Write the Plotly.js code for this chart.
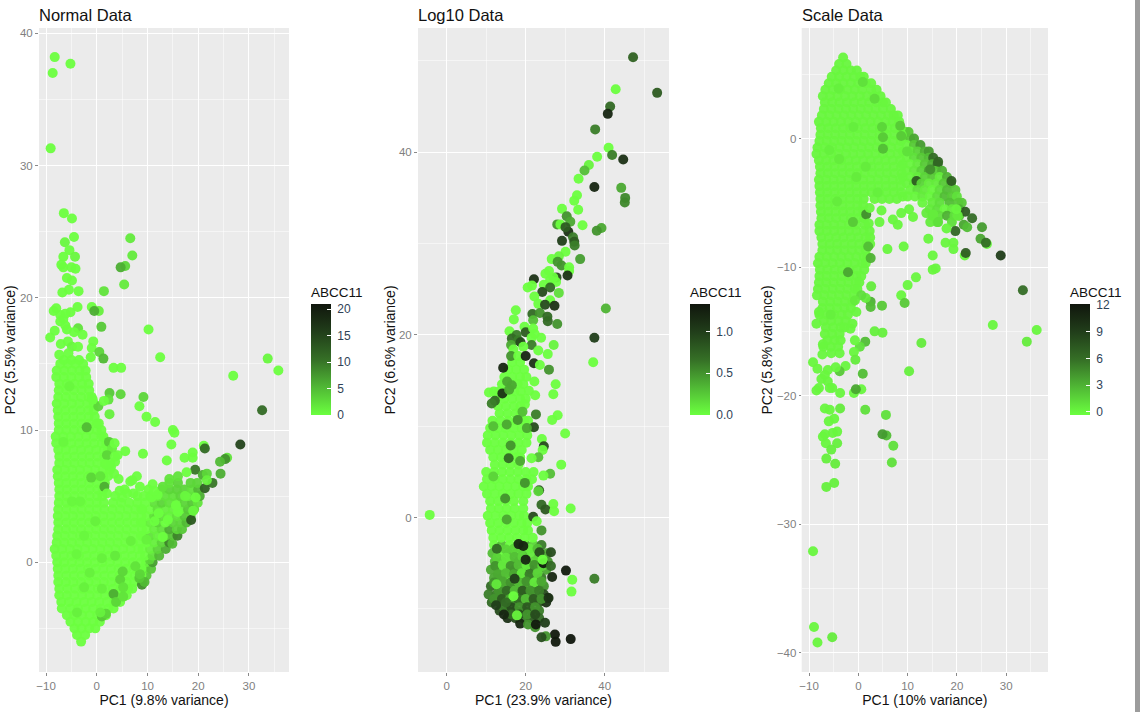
<!DOCTYPE html>
<html><head><meta charset="utf-8">
<script src="https://cdn.plot.ly/plotly-3.0.1.min.js"></script>
<style>html,body{margin:0;padding:0;background:#fff}#c{width:1140px;height:712px}</style>
</head><body><div id="c"></div>
<script>
// ---- Normal Data: solid mass, rows of [PC2, PC1, PC1, ...], ABCC11 = 0
const normalRows = [
[-6,-3.1],[-5.5,-3.9,-2.3],[-5,-4.4,-3,-1.5,-.3],[-4.5,-5.2,-3.7,-2.2,-.7,.6],[-4,-5.9,-4.4,-2.9,-1.4,.1,1.8],
[-3.5,-6.9,-5.2,-3.7,-2.2,-.7,.8,2.3,3.3],[-3,-7,-5.5,-4,-2.5,-1,.5,2,3.5,4.6],[-2.5,-7.4,-5.9,-4.4,-2.9,-1.4,.1,1.6,3.1,4.6,5.9],
[-2,-7.4,-5.8,-4.3,-2.8,-1.3,.2,1.7,3.2,4.7,6.2,7],[-1.5,-7.6,-6.1,-4.6,-3.1,-1.6,-.1,1.4,2.9,4.4,5.9,7.4],
[-1,-7.6,-6,-4.5,-3,-1.5,0,1.5,3,4.5,6,7.5,8.8],[-.5,-7.7,-6.2,-4.7,-3.2,-1.7,-.2,1.3,2.8,4.3,5.8,7.3,8.8],
[0,-7.8,-6.4,-4.9,-3.4,-1.9,-.4,1.1,2.6,4.1,5.6,7.1,8.6],[.5,-8,-6.5,-5,-3.5,-2,-.5,1,2.5,4,5.5,7,8.5],
[1,-8.3,-6.8,-5.3,-3.8,-2.3,-.8,.7,2.2,3.7,5.2,6.7,8.2],[1.5,-7.9,-6.4,-4.9,-3.4,-1.9,-.4,1.1,2.6,4.1,5.6,7.1,8.6],
[2,-7.8,-6.3,-4.8,-3.3,-1.8,-.3,1.2,2.7,4.2,5.7,7.2,8.7],[2.5,-7.6,-6.1,-4.6,-3.1,-1.6,-.1,1.4,2.9,4.4,5.9,7.4,8.9],
[3,-7.6,-6,-4.5,-3,-1.5,0,1.5,3,4.5,6,7.5,8.7],[3.5,-7.7,-6.2,-4.7,-3.2,-1.7,-.2,1.3,2.8,4.3,5.8,7.3,8.8],
[4,-7.6,-6,-4.5,-3,-1.5,0,1.5,3.1,4.6,6.1,7.6,8.8],[4.5,-7.5,-6,-4.5,-3,-1.5,0,1.4,3.2,4.8,6.4,8,9.5],
[5,-7.4,-5.9,-4.4,-2.9,-1.4,.1,1.1,3.6],[5.5,-7.4,-5.9,-4.4,-2.9,-1.4,.1,1.3],[6,-7.5,-6,-4.5,-3,-1.5,0,1.6],
[6.5,-7.7,-6.2,-4.7,-3.2,-1.7,-.2,1.3,2.2],[7,-7.8,-6.3,-4.8,-3.3,-1.8,-.3,1.2,2.6],[7.5,-7.4,-5.9,-4.4,-2.9,-1.4,.1,1.6,2.7],
[8,-7.4,-5.9,-4.4,-2.9,-1.4,.1,1.5],[8.5,-7.6,-6.1,-4.6,-3.1,-1.6,-.1,1.4,2.2],[9,-8,-6.5,-5,-3.5,-2,-.5,1,1.9],
[9.5,-8.1,-6.6,-5.1,-3.6,-2.1,-.6,.9,1.3],[10,-7.5,-6,-4.5,-3,-1.5,0,.9],[10.5,-7.5,-6,-4.5,-3,-1.5,0,.4],
[11,-7.6,-6.1,-4.6,-3.1,-1.6,-.4],[11.5,-7.7,-6.2,-4.7,-3.2,-1.7,-.6],[12,-7.9,-6.4,-4.9,-3.4,-1.9,-.6],
[12.5,-7.6,-6.1,-4.6,-3.1,-1.6,-1],[13,-7.5,-6,-4.5,-3,-1.5],[13.5,-7.4,-5.9,-4.4,-2.9,-1.6],
[14,-8,-6.5,-5,-3.5,-2.1],[14.5,-7.9,-6.4,-4.9,-3.4,-2.2],[15,-7.2,-5.7,-4.2,-2.7],[15.3,-6.5,-5,-3.5]
];
// Normal Data: coloured wing, flat PC1, PC2, ABCC11
const normalWing = [
9,-1.5,5, 9.8,-1,4, 9.5,-.5,2, 10.7,-.5,4, 9.7,0,1, 11,0,7, 10.4,.2,3, 9.5,.5,0, 11,.5,2, 12.3,.5,5,
9,1,0, 10.5,1,1, 12,1,3, 13.6,1,6, 9.8,1.5,0, 11.3,1.5,1, 12.8,1.5,3, 14.3,1.5,9, 14.9,1.4,5,
9,2,0, 10.5,2,2, 12,2,1, 13.5,2,3, 15,2,4, 15.9,2,9, 9.8,2.5,0, 11.3,2.5,1, 12.8,2.5,2, 14.3,2.5,6, 15.8,2.5,3, 16.8,2.5,4,
9,3,0, 10.5,3,1, 11.6,3.3,10, 12,3,3, 13.5,3,0, 15,3,3, 16.5,3,3, 17.7,3,5, 9.8,3.5,0, 11.3,3.5,2, 12.8,3.5,2, 14.3,3.5,1, 15.8,3.5,2, 17.3,3.5,4, 18.5,3.5,3,
9,4,0, 10.5,4,0, 12,4,2, 13.5,4,1, 15,4,1, 16.5,4,1, 18,4,4, 19.2,4,3, 11.3,4.5,2, 12.8,4.5,3, 14.3,4.5,2, 15.8,4.5,1, 17.3,4.5,3, 18.8,4.5,4, 19.9,4.5,2,
10.5,5,1, 12,5,1, 13.5,5,2, 15,5,2, 16.5,5,3, 18,5,1, 19.5,5,3, 20.3,5,6, 12.8,5.5,2, 14.3,5.5,3, 15.8,5.5,3, 17.3,5.5,3, 18.8,5.5,2, 20,5.5,5,
14.3,6,2, 16,6,3, 18.5,6,3, 19.8,6,3
];
// Normal Data: separately readable points, flat PC1, PC2, ABCC11
const normalPoints = [
-8.3,38.2,0, -8.7,37,0, -5.2,37.7,0, -9.1,31.3,0, -6.5,26.4,0, -4.9,26,0, -4.5,24.6,0, -6.3,24.2,.5, -5.4,23.6,0, -6.6,23.1,0, -4.3,23.1,.5,
-7,22.5,0, -6.6,22.3,0, -5,22.3,0, -4.2,22.2,0, -5.9,21.5,0, -4.9,21.3,0, -5.5,20.6,0, -6.8,20.4,0, -3.6,20.5,0, 6.6,24.5,1.5, 7,23.2,1.5,
5.6,22.4,3, 4.7,22.3,6, 5.4,21,1.5, 1.4,20.5,2, -1,19.3,0, .4,19,1, -.5,19,6, -3.8,19.3,0, -8,19.2,0, -8.5,19,0, -5.2,18.9,0, -6.2,18.8,0,
-7.2,18.7,0, -6.6,18.4,0, -7.2,18.2,0, -6.2,17.9,0, -5.9,17.6,0, -3.7,17.7,2, -4.5,17.4,0, -2.8,17.2,0, .9,17.8,4, -8.3,17.5,0, -9.2,17,0, 10.2,17.6,0,
-.7,16.7,0, -7.1,16.5,0, -5.7,16.7,0, -4.9,16.3,.5, -3.7,16.3,0, -1,16.2,0, .5,15.9,3, -7.4,15.7,0, -5.6,15.8,0, -1.2,15.5,0, 1.3,15.4,5, 12.5,15.5,0, 33.7,15.4,.5,
35.8,14.5,0, 26.9,14.1,0, 3.3,14.7,0, 4.8,14.7,0, 32.6,11.5,11, 2.5,12.8,4, 4.7,12.7,3, 9.2,12.5,3, 8.4,11.8,0, 9.8,11,0, 11.5,10.6,0, 2.5,11.2,1,
2.3,12.3,2, .3,11.8,3, 1.4,12.2,0, -.8,12.3,0, 15,10,0, 15.3,9.8,0, 14.7,8.9,0, 21.1,8.8,0, 28.3,8.9,15, 21.3,8.6,11, 18.9,8.3,0, 18.9,7.9,0, 17.3,7.9,0, 13.8,7.7,0, 9.1,8.2,0,
5.6,8.4,0, 4.1,8.1,0, 25.7,7.9,2, 25.3,7.8,8, 24.3,7.6,5, 24.4,6.7,6, 19.4,7,10, 17.7,6.8,0, 20.9,6.6,6, 21.7,6.7,3, 22.8,6,10, 21.3,5.6,12, 21.7,6.2,1, 18.6,3.2,13,
-2,10.2,5, 2.4,9.1,4, 3,8.6,1, 2,8.1,3, 4.3,6.3,0, -1.1,6.4,3, .7,6.5,2, 1.5,5.7,6, 2,5.2,0, 4.5,5.4,0, 6.6,6.1,0, 7.9,6.5,0, 7,6.2,0, 8.5,5.7,0, 11,5.9,0, 10.2,5.5,0, 5.5,5.5,0, 9.3,5,0,
3.6,7.6,0, 2.8,7.2,0, 3.4,6.7,0, 1.8,7.4,0, 3.5,9,0, 3.6,8,0, 6,5.2,0, 7.2,5.2,0, 8,5,0, 5,4.9,0, 10.8,4.9,0, 12,5.1,0, 11.3,5.4,0,
13,5.7,2, 14.3,6.3,2, 16,6.5,2, 8.9,-1.7,8, 9.4,-1.5,5, 8.4,-1.2,4, 3.3,-2.4,6, 1,-4.1,4, 1.8,-3.9,3, 3.8,-3,3, 5.2,-2.6,2,
-4,.6,.5, -2.5,2,.5, 1,-2,1, 4.6,-1.3,3, 5.1,-.7,3, 3.6,.5,1.5, 1,.3,1, -3.9,-3.8,1, 5.2,-1.9,2, 8.5,-.9,3, 9.8,1.7,1, -.3,3.1,1, -4.9,4.6,.5, -3.3,4.6,.5, -5.4,13.3,.5, -6.6,9.1,.5,
-2.5,-1.9,1, -1.4,-.8,1, .7,-3.8,1, 7.6,-.3,2, 6.7,1.6,1, 11.4,3.1,0, 13,1.9,0, 12.2,3.7,0, 14,3.2,0, 16,3.8,0, 15.6,4.3,0, 19.5,4.9,0, 19,3.9,.5, 17.4,5,.5
];

// ---- Log10 Data
const logRows = [
[17,16.6,18.6],[16.2,15.6,17.6,19.6],[15.4,14.6,16.6,18.6,20.2],[14.6,14,16,18,19.4],[13.8,11.9,13.2,15.2,17.2,18.8],
[13,12.6,14.6,16.6,18.6],[12.2,13,15,17,18.7],[11.4,13.4,15.4,17.4,18.8],[10.6,11.6,13.6,15.6,17.6,19.6,20.6],
[9.8,11,13,15,17,19,20.8],[9,10.4,12.4,14.4,16.4,18.4,20.4],[8.2,10.2,12.2,14.2,16.2,18.2,20.2],[7.4,11,13,15,17,19],
[6.6,11.8,13.8,15.8,17.8,18.6],[5.8,12.2,14.2,16.2,18.2],[5,10,12,14,16,18,20,22],[4.2,10.2,12.2,14.2,16.2,18.2,20.2,21.6],
[3.4,9.4,11.4,13.4,15.4,17.4,19.4,20.6],[2.6,10.2,12.2,14.2,16.2,18.2,20.2],[1.8,11,13,15,17,19.4],[1,11.2,13.2,15.2,17.2,19.4],
[.2,10.4,12.4,14.4,16.4,18.4,19.6],[-.6,11,13,15,17,19,20.4],[-1.4,11.4,13.4,15.4,17.4,19.4,20.6],[-2.2,11.8,13.8,15.8,17.8,19.8,21.8]
];
// Log10 Data: lower coloured mass, flat PC1, PC2, ABCC11
const logLower = [
12,-3,0, 14,-3,.3, 16,-3,0, 18,-3,.3, 20,-3,.4, 22,-3,.2, 24,-3,.6,
11.6,-3.9,.3, 13.6,-3.9,0, 15.6,-3.9,.3, 17.6,-3.9,.1, 19.6,-3.9,.4, 21.6,-3.9,.1, 23.6,-3.9,.6, 25.4,-3.9,.4,
12.2,-4.8,.3, 14.2,-4.8,.4, 16.2,-4.8,.2, 18.2,-4.8,.5, 20.2,-4.8,.8, 22.2,-4.8,.2, 24.2,-4.8,.3, 25.6,-4.8,.5,
11.2,-5.7,.4, 13.2,-5.7,.2, 15.2,-5.7,.4, 17.2,-5.7,.6, 19.2,-5.7,.4, 21.2,-5.7,.7, 23.2,-5.7,.1, 25.2,-5.7,.4,
12,-6.6,.4, 14,-6.6,.4, 16,-6.6,.1, 18,-6.6,.7, 20,-6.6,.4, 22,-6.6,.3, 24,-6.6,.6,
11.2,-7.5,.7, 13.2,-7.5,.2, 15.2,-7.5,.4, 17.2,-7.5,.8, 19.2,-7.5,.5, 21.2,-7.5,.4, 23,-7.5,.7, 24.6,-7.5,.5,
10.6,-8.4,.6, 12.6,-8.4,.6, 14.6,-8.4,.5, 16.6,-8.4,.7, 18.6,-8.4,.4, 20.6,-8.4,.6, 22.6,-8.4,.5, 24.6,-8.4,.9,25.6,-8.8,1.1,
11.4,-9.3,.7, 13.4,-9.3,.6, 15.4,-9.3,.8, 17.4,-9.3,.5, 19.4,-9.3,.7, 21.4,-9.3,.6, 23.4,-9.3,.8, 25.2,-9.3,1.1,
13.4,-10.2,.9, 15.4,-10.2,.7, 17.4,-10.2,.8, 19.4,-10.2,1, 21.4,-10.2,.7, 23.4,-10.2,.6,
15.4,-11,1.1, 17.4,-11,.9, 19.4,-11,.6, 21.4,-11,.8, 23.4,-11,.7, 18.6,-11.6,1.2, 20.6,-11.7,.5, 22.4,-12,.5,
13,-3.4,.1, 15,-3.5,.2, 17,-3.4,.2, 19,-3.5,.2, 21,-3.4,.1, 23,-3.4,.3, 12.8,-4.4,.2, 15,-4.4,.1, 17.2,-4.3,.3, 19.2,-4.3,.2, 23.2,-4.4,.2,
12.3,-5.3,.5, 14.2,-5.2,.1, 16.2,-5.3,.5, 18.2,-5.2,.3, 20.2,-5.2,.1, 22.2,-5.2,.5, 24.2,-5.3,.2, 13,-6.2,.4, 15,-6.1,.3, 17,-6.2,.4, 19,-6.1,.1, 21,-6.2,.6, 23,-6.1,.2,
12,-7.1,.5, 14.2,-7,.4, 16.2,-7.1,.5, 18.2,-7.1,.3, 20.2,-7,.5, 22.2,-7.1,.1, 24,-7,.4, 13.2,-8,.5, 15.2,-8,.7, 17.2,-8,.3, 19.2,-8,.8, 21.2,-8,.5, 23.4,-8,.6,
12,-8.9,.5, 14,-8.9,.8, 16,-8.9,.4, 18,-8.9,.7, 20,-8.9,.3, 22,-8.9,.8, 24,-8.9,.5, 14.4,-9.8,.6, 16.4,-9.8,.9, 18.4,-9.8,.5, 20.4,-9.8,.8, 22.4,-9.8,.5, 16.4,-10.6,.7, 18.4,-10.6,.9, 20.4,-10.6,.5, 22.4,-10.6,.9
];
const logPoints = [
47.2,50.4,.75, 53.3,46.5,.8, 42.8,46.9,0, 41.4,45,.7, 40.8,44.2,1.2, 37.6,42.5,.6, 41,40.5,0, 41.9,39.7,.6, 44.7,39.2,1.1, 38.1,39.5,0, 36,38.6,.05, 34.9,38,.3, 33.4,37.1,0, 37.4,36.2,1.2,
44.2,36.1,.4, 45.2,35,.55, 45.1,34.5,.55, 33,35.3,0, 32.3,34.7,0, 33.3,33.7,0, 29.2,33.8,0, 30.4,33,.5, 31.3,32.4,.4, 28,32.1,.5, 28.8,32.1,0, 34.4,32,0, 39.2,31.7,.4, 38,31.4,.5,
30.8,31.3,1.1, 30.1,31.8,.8, 32,30.7,.6, 32.3,30.2,.8, 32.4,29.8,.6, 29.2,30.3,1, 30.1,29.1,0, 28.4,28.6,.05, 26.6,28.3,0, 33.8,28.3,.45, 28.1,28,.5, 29.1,27.6,.5, 31,27.4,0, 31,27,0, 30.6,26.5,1.1,
25.9,27,0, 25,26.7,0, 27.8,26.3,.9, 22.1,26.1,1.1, 27,26.3,0, 27.7,25.8,0, 26.2,26,0, 24.6,25.5,0, 21.6,25.4,0, 20.5,25.2,0, 26.2,25.2,.7, 24.2,24.7,.9, 28.4,24.6,.15, 22.2,24.2,0, 26.2,23.8,0, 23.2,23.4,0,
24.9,23.3,.9, 27.3,23.2,1.1, 40.3,22.9,.35, 17.5,22.7,0, 21.7,22.3,.7, 23.6,22.4,.5, 25.5,22,.7, 17,21.7,0, 21.9,21.6,.3, 25.6,21.5,.7, 28,21.2,.5, 19.7,20.9,0, 15.9,20.4,0, 20,20.3,.8, 21.9,20.7,0, 22.3,20.1,0,
17.7,20,.6, 16.5,19.6,.7, 18.1,19.4,.6, 37.4,19.7,1, 21.5,19.7,0, 23.9,19.7,0, 16.3,18.9,.4, 18.7,19.2,.9, 21.5,18.9,.6, 27.1,18.9,.05, 16.9,18.4,0, 19.4,18.7,0, 23.2,18.3,0, 25.6,17.9,0, 16.3,17.7,.5, 18.1,17.7,0, 20,17.7,1.2,
37.1,17,0, 14.3,16.4,1.2, 22.1,16.9,1.1, 23.6,16.7,0, 25.9,16.2,.5, 22.2,14.9,0, 27.6,14.6,0, 27,13.5,0, 22.4,13.4,0, 20.8,13.9,0, 10.7,13.7,0, 14.1,13.6,1.1, 12.2,12.8,.7, 11.4,12.5,.6, 20,13,0, 19.8,12.4,0,
15.3,14.9,.4, 16.5,14.5,.4, 15.8,14,.4, 22.6,11.3,.6, 28.1,11.2,0, 26.7,10.7,0, 19.2,11.6,.3, 18,10.7,.5, 15.2,10.2,.4, 11.8,10,.3, 22.1,9.9,.9, 20.3,9.8,.4, 30,9.2,0, 24.1,8.6,0, 24.6,7.8,.9, 24.3,7.4,0, 16.2,7.9,.5, 23.2,6.6,.3, 21.5,6.5,0, 15.7,6.5,.7,
18.6,6.2,.4, 29,5.8,0, 26.2,4.8,.3, 11.8,4.5,.2, 24.5,4.6,0, 19.8,3.8,.5, 23.4,3,.8, 23.2,2.9,.2, 14.8,2.1,.5, 27,1.5,0, 31.4,1,0, 24,1.4,.7, 25,.9,.8, 27.2,.7,0, 21.9,.1,.9, 22.8,-.4,0, 15.2,-.2,.4, 24,-1.4,.5, -4.3,.3,0,
12.7,-3.4,.7, 19.4,-3.1,1.2, 18.2,-2.9,1.2, 26.4,-3.8,.9, 23.5,-3.8,.9, 20,-4.6,1.2, 24.5,-5,1.3, 24.3,-4.6,0, 26.4,-5.3,.7, 30.2,-5.8,1.3, 26.7,-6.5,1.2, 31.8,-6.8,0, 37.4,-6.7,.6, 31.6,-8.1,0, 16.9,-8.6,0, 17.2,-6.7,1,
25.8,-8.8,1.1, 27.4,-12.8,1.3, 27.6,-13.6,1.3, 31.4,-13.3,1.4, 25.1,-13,.5, 24,-13.1,.9, 22.6,-11.7,1.3, 24.9,-11.5,1, 14.5,-10.6,1.2, 12.5,-9.6,1, 12.6,-7.3,.1, 17.8,-10.7,.05, 15,-9.3,.7
];

// ---- Scale Data
const scaleRows = [
[6.3,-3.1],[5.8,-3.9,-2.4],[5.3,-4.5,-3,-1.5,-.3],[4.8,-5.4,-3.9,-2.4,-.9,.4,1.1],[4.3,-6,-4.5,-3,-1.5,0,1.5,2.6],[3.8,-6.7,-5.2,-3.7,-2.2,-.7,.8,2.6,3.7],
[3.3,-7.2,-5.7,-4.2,-2.7,-1.2,.3,1.8,3.3,4.5],[2.8,-6.8,-5.3,-3.8,-2.3,-.8,.7,2.2,3.7,5,5.6],[2.3,-7,-5.5,-4,-2.5,-1,.5,2,3.5,5,6.6],
[1.8,-7.4,-5.9,-4.4,-2.9,-1.4,.1,1.6,3.1,4.6,6.1,7.2,8],[1.3,-8,-6.5,-5,-3.5,-2,-.5,1,2.5,4,5.5,7,8.3],[.8,-7.6,-6.1,-4.6,-3.1,-1.6,-.1,1.4,2.9,4.4,5.9,7.4,8.6],
[.3,-7.7,-6.2,-4.7,-3.2,-1.7,-.2,1.3,2.8,4.3,5.8,7.3,8.8],[-.2,-7.9,-6.4,-4.9,-3.4,-1.9,-.4,1.1,2.6,4.1,5.6,7.1,8.6],[-.7,-8.3,-6.8,-5.3,-3.8,-2.3,-.8,.7,2.2,3.7,5.2,6.7,8.2],
[-1.2,-8.5,-7,-5.5,-4,-2.5,-1,.5,2,3.5,5,6.5,8],[-1.7,-8,-6.5,-5,-3.5,-2,-.5,1,2.5,4,5.5,7,8.5],[-2.2,-7.8,-6.3,-4.8,-3.3,-1.8,-.3,1.2,2.7,4.2,5.7,7.2,8.7],
[-2.7,-7.7,-6.2,-4.7,-3.2,-1.7,-.2,1.3,2.8,4.3,5.8,7.3,8.8],[-3.2,-8,-6.5,-5,-3.5,-2,-.5,1,2.5,4,5.5,7,8.5],[-3.7,-7.9,-6.4,-4.9,-3.4,-1.9,-.4,1.1,2.6,4.1,5.6,7.1,8.6],
[-4.2,-7.8,-6.3,-4.8,-3.3,-1.8,-.3,1.2,2.7,4.2,5.7,7.2,8.7],[-4.7,-7.7,-6.2,-4.7,-3.2,-1.7,-.2,1.1,3.3,4.8,6.3,7.8],[-5.2,-7.7,-6.2,-4.7,-3.2,-1.7,-.2,1],
[-5.7,-7.6,-6.1,-4.6,-3.1,-1.6,-.1,1],[-6.2,-7.5,-6,-4.5,-3,-1.5,0,1.2],[-6.7,-7.9,-6.4,-4.9,-3.4,-1.9,-.4,1.4],[-7.2,-7.9,-6.4,-4.9,-3.4,-1.9,-.4,1.1,2.3],
[-7.7,-7.5,-6,-4.5,-3,-1.5,0,1.5,2.4],[-8.2,-7.3,-5.8,-4.3,-2.8,-1.3,.2,1.7,2.4],[-8.7,-7.3,-5.8,-4.3,-2.8,-1.3,.2,1.5],[-9.2,-7.9,-6.4,-4.9,-3.4,-1.9,-.4,1.1,1.8],
[-9.7,-8.2,-6.7,-5.2,-3.7,-2.2,-.7,.8,1.5],[-10.2,-7.8,-6.3,-4.8,-3.3,-1.8,-.3,1.2],[-10.7,-7.9,-6.4,-4.9,-3.4,-1.9,-.4,.6],[-11.2,-8,-6.5,-5,-3.5,-2,-.5,.2],
[-11.7,-8.2,-6.7,-5.2,-3.7,-2.2,-.7,-.2],[-12.2,-8.4,-6.9,-5.4,-3.9,-2.4,-.9],[-12.7,-7.2,-5.7,-4.2,-2.7,-1.2],[-13.2,-7.3,-5.8,-4.3,-2.8,-1.5],
[-13.7,-7.9,-6.4,-4.9,-3.4,-2.1],[-14.2,-7,-5.5,-4,-2.6],[-14.7,-6.6,-5.1,-3.6,-2.8],[-15.2,-6.8,-5.3,-3.8],[-15.7,-6.3,-4.8,-3.6],[-16.2,-7.1,-5.6,-4.1]
];
const scaleWing = [
9.5,.5,1, 10.2,.5,2, 9,0,.5, 10.5,0,2, 11.3,0,3.5, 9.8,-.5,0, 11.3,-.5,2, 12.6,-.5,4, 9,-1,0, 10.5,-1,.5, 12,-1,1.5, 13.5,-1,3, 14.3,-1,4,
9.8,-1.5,0, 11.3,-1.5,1, 12.8,-1.5,2, 14.3,-1.5,2.5, 15.2,-1.5,6, 9,-2,0, 10.5,-2,0, 12,-2,.5, 13.5,-2,2, 15,-2,3, 16.1,-2,6,
9.8,-2.5,0, 11.3,-2.5,.5, 12.8,-2.5,1.5, 14.3,-2.5,3.5, 15.8,-2.5,2, 17,-2.5,3, 9,-3,0, 10.5,-3,0, 12,-3,.5, 13.5,-3,1.5, 15,-3,2, 16.5,-3,.5, 18,-3,3,
9.8,-3.5,0, 11.3,-3.5,.5, 11.8,-3.3,7, 12.8,-3.5,1.5, 14.3,-3.5,.5, 15.8,-3.5,.5, 17.3,-3.5,2, 18.8,-3.5,2.5, 10.5,-4,0, 12,-4,1, 13.5,-4,.5, 15,-4,0, 16.5,-4,1, 18,-4,2.5, 19.7,-4,2,
9,-4.5,0, 10,-4.5,0, 11.5,-4.5,0, 13,-4.5,.5, 14.5,-4.5,0, 16,-4.5,1, 17.5,-4.5,2.5, 19,-4.5,2, 20,-4.5,1, 13,-5,0, 15,-5,.5, 16.5,-5,1, 18.5,-5,2.5, 20.3,-5,2, 21,-5,2,
10.3,-5.5,0, 14.5,-5.5,.5, 16,-5.5,1, 17.5,-5.5,0, 19,-5.5,.5, 20.5,-5.5,3, 15,-6,1, 16.4,-6,1, 18,-6,3, 19.5,-6,1, 20.5,-6,2, 16,-6.5,.5, 19,-6.5,1
];
const scalePoints = [
5.9,-8.6,0, 9.2,-8.4,0, 14.2,-7.8,0, 17.7,-8.1,0, 19.3,-8.1,0, 19.3,-8.6,0, 15.1,-9.1,0, 21.6,-9.1,0, 21.8,-8.9,7, 28.9,-9.1,9, 15.7,-10.1,0, 15.1,-10.2,0, 11.7,-10.8,0, 10,-11.4,0, 8.7,-12.2,0,
9.4,-12.8,2, 4.8,-13,2, 2.6,-11.5,.5, 2.5,-12.7,3, 2.5,-13.1,2.5, 1.5,-12.4,.5, .6,-12.2,1, -.7,-12.6,.5, -2.1,-10.4,3.5, 33.4,-11.8,6, 27.3,-14.5,0, 36.2,-14.9,0, 34.2,-15.8,.5, 12.8,-15.9,.5, 3.3,-15,.3, 4.9,-15.1,.3,
1.4,-15.8,2.5, .3,-16.2,1, -.7,-15.7,0, -.9,-16.6,0, -.4,-13.5,0, -1.2,-14.4,0, -1.6,-14.8,0, -8.5,-14.4,0, -8,-13.5,0, -5.6,-13.7,.3, -7.2,-16,0, -5.5,-16.7,0, -3.8,-16.7,0, -7.3,-16.8,0,
10.3,-18.1,.3, .9,-18.3,2.5, -.6,-17.2,.5, -2.6,-17.7,0, -3.8,-18.1,2, -4.6,-17.8,0, -9.2,-17.4,0, -8.3,-17.9,0, -6.2,-18,0, -6.8,-18.4,0, -7.5,-18.7,0, -6.2,-18.9,0, -5.8,-19.4,0, -5.3,-19.4,0, -8,-19.4,0, -8.5,-19.6,0, -3.7,-19.8,0,
-.9,-19.8,0, .6,-19.5,0, -.5,-19.5,3.5, 1.4,-21.1,1, -3.7,-21,.5, -6.8,-21,0, -5.8,-21.1,0, -4.9,-21.8,0, -6,-22,0, 5.6,-21.5,1, 5.7,-23.1,2.5, 4.9,-23,4, 7.1,-23.9,1, 6.8,-25.2,1, -4.3,-22.8,0, -5.2,-22.9,0, -6.8,-23,0, -7.2,-23.2,0,
-6.6,-23.7,0, -4.3,-23.7,.3, -5.5,-24.2,.3, -6.5,-24.9,.3, -4.7,-25.3,.5, -4.9,-26.8,.3, -6.5,-27.1,.3, -9.2,-32.1,0, -9,-38,0, -8.3,-39.2,0, -5.3,-38.8,.5,
25.1,-6.9,4, 26.1,-8.2,0, 24.8,-7.8,3.5, 25.9,-8.1,6, 19.7,-7.2,6.5, 21.7,-5.7,7, 23.1,-6.2,6, 21.4,-6.7,3.5, 22.1,-6.9,2.5, 18.9,-3.3,7, 16.2,-1.8,6.5, 14.6,-2.4,4.5, 1.6,-5.9,4.5, -1.1,-6.5,2, 2,-8.4,2.5, 2.5,-9.3,3,
4.3,-6.5,0, 8,-6.7,0, 7,-6.3,0, 8.7,-5.8,0, 11.1,-6.1,0, 4.7,-5.6,0, 2.3,-5.4,0, 2.1,-6.6,0, 13.8,-5.8,.5, 15.2,-5.9,.5, 14.6,-6.5,.5, 16.2,-6.5,1, 17.9,-7,0, 20.2,-6,.5, 19.9,-5.5,0,
-4,3.9,.3, .9,4.4,1, 3.3,3.1,1.2, 4.8,.9,1.5, 5,.1,2, 5,-.8,2.5, 8.5,1,2, 8.7,.2,2, 9.9,-1,1, -5.9,-.9,.3, -3.9,-1.6,.5, -.4,-3,.5, 3.9,-4.2,.3, -4.3,-4.9,.5, -1,.9,.4, 1.5,-2.2,.5
];

function unpack(rows, triples, points){
  const x=[],y=[],c=[];
  for(let i=0;i<triples.length;i+=3){x.push(triples[i]);y.push(triples[i+1]);c.push(triples[i+2]);}
  rows.forEach(r=>{for(let j=1;j<r.length;j++){x.push(r[j]);y.push(r[0]);c.push(0);}});
  for(let i=0;i<points.length;i+=3){x.push(points[i]);y.push(points[i+1]);c.push(points[i+2]);}
  return {x,y,c};
}
const scale=[[0,'#6bff3f'],[.25,'#50b835'],[.5,'#356f26'],[.75,'#213e1a'],[1,'#10160d']];
function trace(d,n){
  const s=n===1?'':n;
  return {type:'scatter',mode:'markers',x:d.x,y:d.y,xaxis:'x'+s,yaxis:'y'+s,showlegend:false,hoverinfo:'skip',
    marker:{size:10,opacity:.95,color:d.c,coloraxis:'coloraxis'+s,line:{width:0}}};
}
const data=[trace(unpack(normalRows,normalWing,normalPoints),1),trace(unpack(logRows,logLower,logPoints),2),trace(unpack(scaleRows,scaleWing,scalePoints),3)];

const W=1140,H=712,panelTop=28,panelBottom=672;
function ax(domain,range,dtick,minor,title,standoff,anchor,ticklen){
  return {domain:[domain[0]/W,domain[1]/W],range,dtick,tick0:0,anchor,showline:false,zeroline:false,
    ticks:'outside',ticklen:ticklen||3,tickcolor:'#8a8a8a',tickwidth:1,tickfont:{family:'Liberation Sans',size:11.5,color:'#7f7f7f'},
    showgrid:true,gridcolor:'#ffffff',gridwidth:1,
    minor:{dtick:minor,tick0:0,showgrid:true,gridcolor:'#ffffff',gridwidth:.5,ticks:''},
    title:{text:title,standoff,font:{family:'Liberation Sans',size:14,color:'#111'}}};
}
function yd(a){a.domain=[1-panelBottom/H,1-panelTop/H];return a;}
function cbar(x,cmin,cmax,dtick,fmt){
  return {cmin,cmax,colorscale:scale,showscale:true,colorbar:{x:x/W,xanchor:'left',xpad:0,y:1-284/H,yanchor:'top',ypad:0,
    thickness:20,thicknessmode:'pixels',len:131,lenmode:'pixels',outlinewidth:0,borderwidth:0,
    ticks:'inside',ticklen:4,tickcolor:'#fff',tickwidth:1,tick0:0,dtick,tickformat:fmt,tickprefix:'\u00a0',
    tickfont:{family:'Liberation Sans',size:12,color:'#2f4256'},
    title:{text:'ABCC11',side:'top',font:{family:'Liberation Sans',size:13.5,color:'#111'}}}};
}
function ttl(text,x){return {text,x:x/W,xref:'paper',xanchor:'left',y:1-13/H,yref:'paper',yanchor:'middle',showarrow:false,xshift:-2,yshift:-2,font:{family:'Liberation Sans',size:16.5,color:'#111'}};}
const layout={width:W,height:H,margin:{l:0,r:0,t:0,b:0,autoexpand:false},paper_bgcolor:'#fff',plot_bgcolor:'#ebebeb',showlegend:false,
  xaxis:ax([39,289],[-11.4,37.9],10,5,'PC1 (9.8% variance)',1,'y'),
  yaxis:yd(ax([0,1],[-8.3,40.4],10,5,'PC2 (5.5% variance)',1,'x')),
  xaxis2:ax([418,669],[-7.27,56.3],20,10,'PC1 (23.9% variance)',1,'y2'),
  yaxis2:yd(ax([0,1],[-16.9,53.6],20,10,'PC2 (6.6% variance)',0,'x2')),
  xaxis3:ax([801.7,1048],[-11.5,38.5],10,5,'PC1 (10% variance)',1,'y3'),
  yaxis3:yd(ax([0,1],[-41.5,8.6],10,5,'PC2 (5.8% variance)',0,'x3',2)),
  coloraxis:cbar(311,0,21,5,'d'),coloraxis2:cbar(690,0,1.33,.5,'.1f'),coloraxis3:cbar(1070,-.35,12.1,3,'d'),
  annotations:[ttl('Normal Data',39),ttl('Log10 Data',418),ttl('Scale Data',801.7)],
  shapes:[{type:'rect',xref:'paper',yref:'paper',x0:1135/W,x1:1,y0:0,y1:1,fillcolor:'#9c9c9c',line:{width:0},layer:'above'}]
};
Plotly.newPlot('c',data,layout,{staticPlot:true,displayModeBar:false});
</script></body></html>
